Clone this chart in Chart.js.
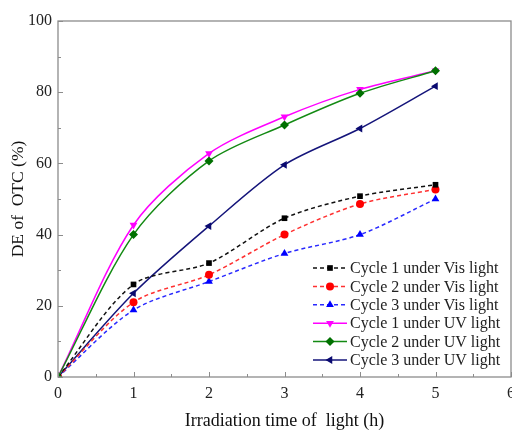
<!DOCTYPE html>
<html>
<head>
<meta charset="utf-8">
<script src="https://cdn.jsdelivr.net/npm/chart.js@4.4.1/dist/chart.umd.min.js"></script>
<style>
  html, body { margin: 0; padding: 0; background: #fff; overflow: hidden; }
  #wrap { position: relative; width: 540px; height: 430px; }
</style>
</head>
<body>
<div id="wrap"><canvas id="c"></canvas></div>
<script>
// Irradiation time (h)
const hours = [0, 1, 2, 3, 4, 5];
// Degradation efficiency of OTC (%)
const cycle1Vis = [0, 26, 32, 44.6, 50.8, 54];
const cycle2Vis = [0, 21, 28.7, 40, 48.6, 52.7];
const cycle3Vis = [0, 18.8, 26.8, 34.7, 40, 50];
const cycle1UV = [0, 42.7, 62.8, 73.1, 80.8, 86];
const cycle2UV = [0, 40, 60.7, 70.8, 79.7, 86];
const cycle3UV = [0, 23.5, 42.4, 59.6, 69.8, 81.7];
const seriesLabels = [
  'Cycle 1 under Vis light',
  'Cycle 2 under Vis light',
  'Cycle 3 under Vis light',
  'Cycle 1 under UV light',
  'Cycle 2 under UV light',
  'Cycle 3 under UV light'
];
const xTicks = [0, 1, 2, 3, 4, 5, 6];
const yTicks = [0, 20, 40, 60, 80, 100];

const SERIF = '"Liberation Serif", "Times New Roman", serif';
const toPoints = vals => vals.map((v, i) => ({ x: hours[i], y: v }));

const styles = [
  { line: '#111111', fill: '#000000', shape: 'rect', rot: 0, dash: [4, 3], r: 4, order: 1 },
  { line: '#ff3030', fill: '#ff0000', shape: 'circle', rot: 0, dash: [4, 3], r: 4, order: 1 },
  { line: '#2a2aff', fill: '#0000ff', shape: 'triangle', rot: 0, dash: [4, 3], r: 4.5, order: 1 },
  { line: '#ff00ff', fill: '#ff00ff', shape: 'triangle', rot: 180, dash: [], r: 4.5, order: 1 },
  { line: '#138a13', fill: '#007000', shape: 'rectRot', rot: 0, dash: [], r: 4.5, order: 0 },
  { line: '#14147a', fill: '#0a0a70', shape: 'triangle', rot: 270, dash: [], r: 4.5, order: 1 }
];
const values = [cycle1Vis, cycle2Vis, cycle3Vis, cycle1UV, cycle2UV, cycle3UV];

const datasets = values.map((vals, i) => ({
  label: seriesLabels[i],
  data: toPoints(vals),
  order: styles[i].order,
  borderColor: styles[i].line,
  backgroundColor: styles[i].fill,
  pointBackgroundColor: styles[i].fill,
  pointBorderColor: styles[i].fill,
  pointBorderWidth: 0,
  pointStyle: styles[i].shape,
  pointRotation: styles[i].rot,
  pointRadius: styles[i].r,
  borderWidth: 1.5,
  borderDash: styles[i].dash,
  tension: 0.3,
  clip: 0,
  fill: false
}));

// Frame around the plot plus inward major/minor tick marks
const framePlugin = {
  id: 'frame',
  afterDatasetsDraw(chart) {
    const { ctx, chartArea: a, scales: { x, y } } = chart;
    ctx.save();
    ctx.strokeStyle = '#8c8c8c';
    ctx.lineWidth = 1.3;
    ctx.strokeRect(a.left, a.top, a.right - a.left, a.bottom - a.top);
    ctx.lineWidth = 1;
    ctx.beginPath();
    for (let v = 0; v <= 6.001; v += 0.5) {
      const px = Math.round(x.getPixelForValue(v)) + 0.5;
      const len = Number.isInteger(v) ? 5 : 3;
      ctx.moveTo(px, a.bottom);
      ctx.lineTo(px, a.bottom - len);
    }
    for (let v = 0; v <= 100.001; v += 10) {
      const py = Math.round(y.getPixelForValue(v)) + 0.5;
      const len = v % 20 === 0 ? 5 : 3;
      ctx.moveTo(a.left, py);
      ctx.lineTo(a.left + len, py);
    }
    ctx.stroke();
    ctx.restore();
  }
};

// Legend drawn inside the lower right of the plot
const legendPlugin = {
  id: 'insideLegend',
  afterDraw(chart) {
    const { ctx, chartArea: a } = chart;
    const x0 = a.left + 255, x1 = a.left + 289, tx = a.left + 292;
    let yy = a.top + 247;
    const step = 18.4;
    ctx.save();
    ctx.font = '16px ' + SERIF;
    ctx.textBaseline = 'middle';
    ctx.fillStyle = '#222';
    chart.data.datasets.forEach((ds, i) => {
      const st = styles[i];
      ctx.save();
      ctx.strokeStyle = ds.borderColor;
      ctx.lineWidth = 1.5;
      ctx.setLineDash(ds.borderDash || []);
      ctx.beginPath();
      ctx.moveTo(x0, yy);
      ctx.lineTo(x1, yy);
      ctx.stroke();
      ctx.setLineDash([]);
      ctx.fillStyle = st.fill;
      ctx.strokeStyle = st.fill;
      ctx.lineWidth = 0;
      Chart.helpers.drawPoint(ctx, { pointStyle: st.shape, rotation: st.rot, radius: st.r, borderWidth: 0 }, (x0 + x1) / 2, yy);
      ctx.restore();
      ctx.fillText(ds.label, tx, yy + 1);
      yy += step;
    });
    ctx.restore();
  }
};

new Chart(document.getElementById('c'), {
  type: 'line',
  data: { datasets },
  options: {
    responsive: true,
    maintainAspectRatio: false,
    animation: false,
    layout: { padding: { left: 0, top: 21, right: 29, bottom: 0 } },
    plugins: { legend: { display: false }, tooltip: { enabled: false } },
    scales: {
      x: {
        type: 'linear',
        min: 0, max: 6,
        afterBuildTicks: s => { s.ticks = xTicks.map(v => ({ value: v })); },
        afterFit: s => { s.height = 53; },
        grid: { display: false, drawTicks: false },
        border: { display: false },
        ticks: { color: '#222', padding: 7, maxRotation: 0, font: { family: SERIF, size: 16 } },
        title: {
          display: true,
          text: 'Irradiation time of  light (h)',
          color: '#111',
          font: { family: SERIF, size: 18, lineHeight: 1 },
          padding: { top: 0, bottom: 0 }
        }
      },
      y: {
        min: 0, max: 100,
        afterBuildTicks: s => { s.ticks = yTicks.map(v => ({ value: v })); },
        afterFit: s => { s.width = 58; },
        grid: { display: false, drawTicks: false },
        border: { display: false },
        ticks: { color: '#222', padding: 6, font: { family: SERIF, size: 16 } },
        title: {
          display: true,
          text: 'DE of  OTC (%)',
          color: '#111',
          font: { family: SERIF, size: 17.5, lineHeight: 1 },
          padding: { top: 10, bottom: 0 }
        }
      }
    }
  },
  plugins: [framePlugin, legendPlugin]
});
</script>
</body>
</html>
